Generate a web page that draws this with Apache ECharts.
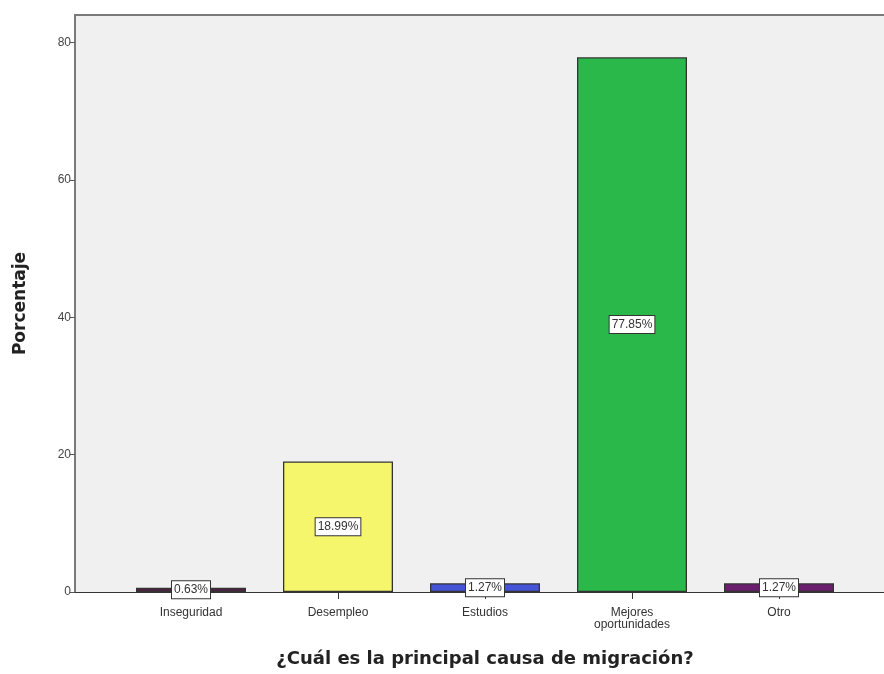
<!DOCTYPE html>
<html>
<head>
<meta charset="utf-8">
<script src="https://cdn.jsdelivr.net/npm/echarts@6/dist/echarts.min.js"></script>
<style>html,body{margin:0;padding:0;background:#fff;}#c{width:884px;height:674px;}</style>
</head>
<body>
<div id="c"></div>
<script>
const categories = ['Inseguridad', 'Desempleo', 'Estudios', 'Mejores\noportunidades', 'Otro'];
const values = [0.63, 18.99, 1.27, 77.85, 1.27];
const barColors = ['#4e2142', '#f6f66c', '#4553d6', '#2bb84a', '#6b1e6e'];
const yTicks = [0, 20, 40, 60, 80];

const chart = echarts.init(document.getElementById('c'));
const font = 'Liberation Sans, Arial, sans-serif';
chart.setOption({
  animation: false,
  grid: [
    {left: 75, right: 0, top: 15, bottom: 82, show: true, backgroundColor: '#f0f0f0', borderWidth: 0, outerBoundsMode: 'none', containLabel: false},
    {left: 117.5, right: 31.5, top: 15, bottom: 82, outerBoundsMode: 'none', containLabel: false}
  ],
  xAxis: [
    {gridIndex: 0, type: 'value', min: 0, max: 1, position: 'bottom',
     axisLine: {show: true, lineStyle: {color: '#333', width: 1}}, axisTick: {show: false},
     axisLabel: {show: false}, splitLine: {show: false}},
    {gridIndex: 0, type: 'value', min: 0, max: 1, position: 'top',
     axisLine: {show: true, lineStyle: {color: '#7a7a7a', width: 2}}, axisTick: {show: false},
     axisLabel: {show: false}, splitLine: {show: false}},
    {gridIndex: 1, type: 'category', data: categories, position: 'bottom',
     axisLine: {show: false},
     axisTick: {show: true, alignWithLabel: true, length: 7, lineStyle: {color: '#333'}},
     axisLabel: {fontFamily: font, fontSize: 12, color: '#333', margin: 15, lineHeight: 12},
     name: '¿Cuál es la principal causa de migración?', nameLocation: 'middle', nameGap: 58,
     nameTextStyle: {fontFamily: 'DejaVu Sans', fontWeight: 'bold', fontSize: 18, color: '#222'}}
  ],
  yAxis: [
    {gridIndex: 0, type: 'value', min: 0, max: 84, interval: 20,
     axisLine: {show: true, lineStyle: {color: '#7a7a7a', width: 2}},
     axisTick: {show: true, length: 5, customValues: yTicks, lineStyle: {color: '#555', width: 1}},
     axisLabel: {fontFamily: font, fontSize: 12, color: '#444', margin: 4, customValues: yTicks},
     splitLine: {show: false},
     name: 'Porcentaje', nameLocation: 'middle', nameGap: 46, nameRotate: 90,
     nameTextStyle: {fontFamily: 'DejaVu Sans', fontWeight: 'bold', fontSize: 17, color: '#222'}},
    {gridIndex: 1, type: 'value', min: 0, max: 84, interval: 20, show: false}
  ],
  series: [{
    type: 'bar', xAxisIndex: 2, yAxisIndex: 1, barWidth: 110,
    data: values.map((v, i) => ({value: v, itemStyle: {color: barColors[i]}})),
    itemStyle: {borderColor: '#333', borderWidth: 1.3},
    label: {show: true, position: 'inside', formatter: p => p.value.toFixed(2) + '%',
      fontFamily: font, fontSize: 12, color: '#333', backgroundColor: '#fff',
      borderColor: '#333', borderWidth: 1, padding: [3, 2, 2, 2]}
  }]
});
</script>
</body>
</html>
